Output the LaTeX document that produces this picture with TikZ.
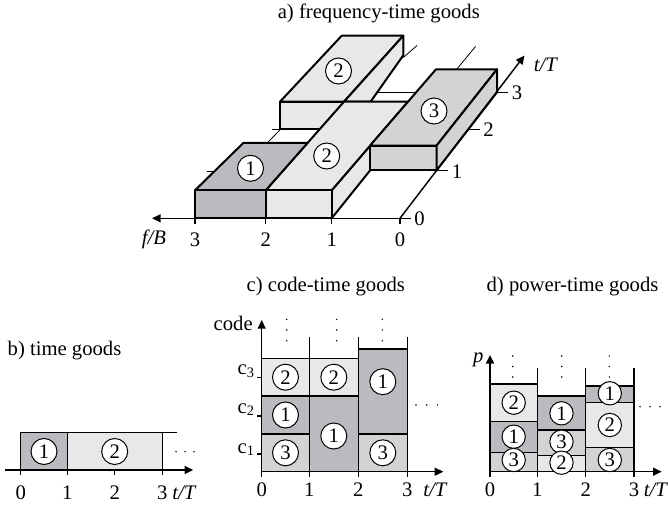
\documentclass[tikz,border=0pt]{standalone}
\usepackage{fontspec}
\setmainfont{Liberation Serif}
\usetikzlibrary{arrows.meta}
\definecolor{cdark}{RGB}{186,187,190}
\definecolor{cmid}{RGB}{210,211,213}
\definecolor{clight}{RGB}{231,232,234}
\begin{document}
\begin{tikzpicture}[x=0.75pt,y=-0.75pt,
  font=\fontsize{15.5}{18}\selectfont,
  face/.style={draw=black,line width=1.5pt,line join=round},
  cell/.style={draw=black,line width=0.8pt},
  ground/.style={line width=0.6pt},
  tickln/.style={line width=0.8pt},
  axisln/.style={line width=1.1pt,-{Triangle[length=6.5pt,width=6pt]}},
  num/.style={circle,draw=black,fill=white,line width=0.75pt,inner sep=0pt,minimum size=19.5pt},
  numsm/.style={num,minimum size=17.5pt},
  lab/.style={inner sep=0pt},
  dotf/.style={fill=black}]
\fill[white] (0,0) rectangle (668,506);
\useasboundingbox (0,0) rectangle (668,506);

%% ---------------- a) frequency-time goods ----------------
\node[lab] (ta) at (378.8,13.3) {a) frequency-time goods};
% visible pieces of the ground grid
\draw[ground] (206.5,171.5) -- (230,171.5);
\draw[ground] (271.5,129.3) -- (284,129.3);
\draw[ground] (267.5,142.7) -- (280.5,129.3);
\draw[ground] (372,92.8) -- (420,92.8);
\draw[ground] (403.3,57.5) -- (417,45.5);
\draw[ground] (452,75) -- (475.5,46.5);
% upper block (2)
\filldraw[face,fill=clight] (280,101.7) -- (341.7,35.7) -- (403.3,35.7) -- (344,101.7) -- cycle;
\filldraw[face,fill=clight] (344,101.7) -- (403.3,35.7) -- (403.3,55.3) -- (370.6,101.7) -- cycle;
\filldraw[face,fill=clight] (280,101.7) rectangle (344,129.3);
% middle block (2)
\filldraw[face,fill=clight] (331.7,190.3) -- (370,145.7) -- (370,170.5) -- (331.7,218.3) -- cycle;
\filldraw[face,fill=clight] (265.7,190.3) -- (331.7,190.3) -- (408,101.7) -- (344,101.7) -- cycle;
\filldraw[face,fill=clight] (265.7,190.3) rectangle (331.7,218.3);
% block (3)
\filldraw[face,fill=cmid] (370,145.7) -- (436.5,145.7) -- (497,69.3) -- (436,69.3) -- cycle;
\filldraw[face,fill=cmid] (370,145.7) rectangle (436.5,170.5);
\filldraw[face,fill=cmid] (436.5,145.7) -- (497,69.3) -- (497,92.3) -- (436.5,170.5) -- cycle;
% block (1)
\filldraw[face,fill=cdark] (195,190.3) -- (265.7,190.3) -- (307.5,143) -- (243.3,143) -- cycle;
\filldraw[face,fill=cdark] (195,190.3) rectangle (265.7,218.3);
% axes
\coordinate (fo) at (400,218.3);
\coordinate (fend) at (152,218.3);
\coordinate (tend) at (524.5,55.5);
\draw[axisln] (fo) -- (fend);
\draw[axisln] (fo) -- (tend);
\foreach \x in {195,265.7,331.7,400} \draw[tickln] (\x,218.3) -- (\x,224);
\draw[tickln] (400,218.3) -- (410.5,218.3);
\draw[tickln] (436.8,170.6) -- (448,170.6);
\draw[tickln] (468.1,129.3) -- (479.5,129.3);
\draw[tickln] (496.4,92.3) -- (507.5,92.3);
\node[lab] (fa3) at (195,240) {3};
\node[lab] (fa2) at (265.7,240) {2};
\node[lab] (fa1) at (331.7,240) {1};
\node[lab] (fa0) at (400,240) {0};
\node[lab] (fab) at (154,239) {\textit{f/B}};
\node[lab,anchor=west] (ta0) at (414,219) {0};
\node[lab,anchor=west] (ta1) at (451.5,171.5) {1};
\node[lab,anchor=west] (ta2) at (483,129.5) {2};
\node[lab,anchor=west] (ta3) at (511.5,93) {3};
\node[lab] (tat) at (546,65) {\textit{t/T}};
% goods numbers
\node[num] (na1) at (250.5,168.3) {1};
\node[num] (na2) at (326.7,156) {2};
\node[num] (na2u) at (338.5,71) {2};
\node[num] (na3) at (434,111) {3};

%% ---------------- b) time goods ----------------
\node[lab] (tb) at (64.5,351) {b) time goods};
\filldraw[cell,fill=cdark] (20.7,432.7) rectangle (67.3,470);
\filldraw[cell,fill=clight] (67.3,432.7) rectangle (162.3,470);
\draw[cell] (162.3,432.7) -- (176.7,432.7);
\coordinate (bo) at (5,470);
\coordinate (bend) at (193.3,470);
\draw[axisln] (bo) -- (bend);
\foreach \x in {20.7,67.3,114.7,162.3} \draw[tickln] (\x,470) -- (\x,475);
\node[lab] (b0) at (20.7,493) {0};
\node[lab] (b1) at (67.3,493) {1};
\node[lab] (b2) at (114.7,493) {2};
\node[lab] (b3) at (162.3,493) {3};
\node[lab] (bt) at (184.5,493) {\textit{t/T}};
\node[num] (nb1) at (44,451.5) {1};
\node[num] (nb2) at (114.7,451.5) {2};
\foreach \x in {176,185,194} \fill[dotf] (\x,451.7) circle (0.8);

%% ---------------- c) code-time goods ----------------
\node[lab] (tc) at (325.8,286.7) {c) code-time goods};
\filldraw[cell,fill=cmid] (261.7,434) rectangle (309.3,471.7);
\filldraw[cell,fill=cdark] (261.7,396) rectangle (309.3,434);
\filldraw[cell,fill=clight] (261.7,358.3) rectangle (309.3,396);
\filldraw[cell,fill=cdark] (309.3,396) rectangle (358.3,471.7);
\filldraw[cell,fill=clight] (309.3,358.3) rectangle (358.3,396);
\filldraw[cell,fill=cmid] (358.3,434) rectangle (407.3,471.7);
\filldraw[cell,fill=cdark] (358.3,349) rectangle (407.3,434);
\draw[cell] (309.3,358.3) -- (309.3,337.3);
\draw[cell] (358.3,349) -- (358.3,337.3);
\draw[cell] (407.3,349) -- (407.3,337.3);
\coordinate (cyb) at (261.7,476.7);
\coordinate (cyt) at (261.7,320);
\coordinate (cxo) at (261.7,471.7);
\coordinate (cxe) at (443.3,471.7);
\draw[axisln] (cyb) -- (cyt);
\draw[axisln] (cxo) -- (cxe);
\foreach \x in {309.3,358.3,407.3} \draw[tickln] (\x,471.7) -- (\x,476.7);
\foreach \y in {454,416,377.3} \draw[tickln] (261.7,\y) -- (256.7,\y);
\node[lab] (c0) at (261.7,490) {0};
\node[lab] (c1) at (309.3,490) {1};
\node[lab] (c2) at (358.3,490) {2};
\node[lab] (c3) at (407.3,490) {3};
\node[lab] (ct) at (435.5,490) {\textit{t/T}};
\node[lab,anchor=east] (ccode) at (253,323) {code};
\node[lab,anchor=base east] (cc1) at (255,453) {c\textsubscript{1}};
\node[lab,anchor=base east] (cc2) at (255,413) {c\textsubscript{2}};
\node[lab,anchor=base east] (cc3) at (255,374.7) {c\textsubscript{3}};
\node[num] (nc03) at (285.5,452.8) {3};
\node[num] (nc01) at (285.5,415) {1};
\node[num] (nc02) at (285.5,377.2) {2};
\node[num] (nc12) at (333.8,377.2) {2};
\node[num] (nc11) at (333.8,436) {1};
\node[num] (nc21) at (382.8,381.7) {1};
\node[num] (nc23) at (382.8,452.8) {3};
\foreach \x in {286.7,336.7,382.3} \foreach \y in {319.3,330,340.7} \fill[dotf] (\x,\y) circle (0.8);
\foreach \x in {416,426.7,437.3} \fill[dotf] (\x,405) circle (0.8);

%% ---------------- d) power-time goods ----------------
\node[lab] (td) at (572.5,286.7) {d) power-time goods};
\filldraw[cell,fill=cmid] (490,452.7) rectangle (537.3,471.7);
\filldraw[cell,fill=cdark] (490,421.7) rectangle (537.3,452.7);
\filldraw[cell,fill=clight] (490,384) rectangle (537.3,421.7);
\filldraw[cell,fill=clight] (537.3,455.7) rectangle (585.7,471.7);
\filldraw[cell,fill=cmid] (537.3,430) rectangle (585.7,455.7);
\filldraw[cell,fill=cdark] (537.3,396) rectangle (585.7,430);
\filldraw[cell,fill=cmid] (585.7,447.3) rectangle (634,471.7);
\filldraw[cell,fill=clight] (585.7,402.3) rectangle (634,447.3);
\filldraw[cell,fill=cdark] (585.7,386) rectangle (634,402.3);
\draw[cell] (537.3,384) -- (537.3,368.3);
\draw[cell] (585.7,386) -- (585.7,368.3);
\draw[cell] (634,386) -- (634,368.3);
\coordinate (dyb) at (490,476.7);
\coordinate (dyt) at (490,355);
\coordinate (dxo) at (490,471.7);
\coordinate (dxe) at (661.7,471.7);
\draw[axisln] (dyb) -- (dyt);
\draw[axisln] (dxo) -- (dxe);
\foreach \x in {537.3,585.7,634} \draw[tickln] (\x,471.7) -- (\x,476.7);
\node[lab] (d0) at (490,490) {0};
\node[lab] (d1) at (537.3,490) {1};
\node[lab] (d2) at (585.7,490) {2};
\node[lab] (d3) at (634,490) {3};
\node[lab] (dt) at (656,490) {\textit{t/T}};
\node[lab] (dp) at (478.3,360) {\textit{p}};
\node[numsm] (nd02) at (513.7,402.7) {2};
\node[numsm] (nd01) at (513.7,436.7) {1};
\node[numsm] (nd03) at (513.7,460) {3};
\node[numsm] (nd11) at (561.5,413.3) {1};
\node[numsm] (nd13) at (561.5,441.7) {3};
\node[numsm] (nd12) at (561.5,462.7) {2};
\node[numsm] (nd21) at (609.8,393.3) {1};
\node[numsm] (nd22) at (609.8,425) {2};
\node[numsm] (nd23) at (609.8,460) {3};
\foreach \x in {512.7,561.7,609.3} \foreach \y in {356,366.5,377} \fill[dotf] (\x,\y) circle (0.8);
\foreach \x in {640,650,660} \fill[dotf] (\x,406.7) circle (0.8);
\end{tikzpicture}
\end{document}
